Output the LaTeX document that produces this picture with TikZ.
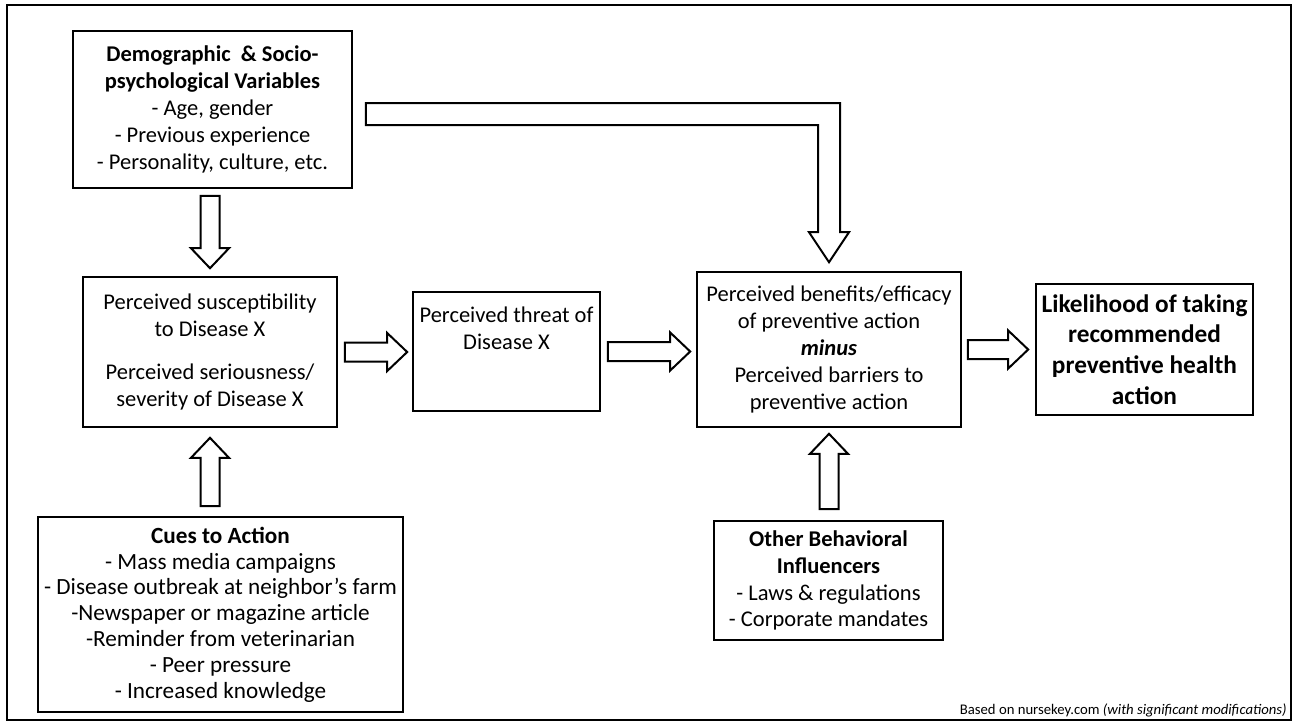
\documentclass[tikz,border=0pt]{standalone}
\usepackage{fontspec}
\setmainfont{Carlito}
\usetikzlibrary{calc,positioning}

\newcommand{\blockarrow}[2]{%
	\coordinate (ba-h) at ($(#2)!10pt!(#1)$);
	\draw[hollow] ($(#1)!4.75pt!90:(#2)$) -- ($(ba-h)!4.75pt!90:(#2)$) -- ($(ba-h)!9.5pt!90:(#2)$) -- (#2)
		-- ($(ba-h)!9.5pt!-90:(#2)$) -- ($(ba-h)!4.75pt!-90:(#2)$) -- ($(#1)!4.75pt!-90:(#2)$) -- cycle;
}

\begin{document}
\begin{tikzpicture}[x=0.5pt,y=-0.5pt,line join=miter]
	\useasboundingbox (0,0) rectangle (1294,725);
	\draw[line width=1.2pt] (7,5) rectangle (1291,720);
	\begin{scope}[font=\fontsize{11.25}{13.4}\selectfont]
		\tikzstyle{box}=[draw,line width=0.8pt,align=center,inner sep=0pt];
		\tikzstyle{hollow}=[draw,line width=1pt,fill=white];
		\path (212.5,109.5) node [box,minimum width=139.5pt,minimum height=78.5pt] (demo)
			{\textbf{Demographic\ \ \& Socio-}\\\textbf{psychological Variables}\\- Age, gender\\- Previous experience\\- Personality, culture, etc.};
		\path (210,352) node [box,minimum width=127pt,minimum height=75pt] (susc)
			{Perceived susceptibility\\to Disease X\\[8pt]Perceived seriousness/\\severity of Disease X};
		\path (506.5,351.5) node [box,minimum width=93.5pt,minimum height=59.5pt] (threat) {};
		\path (threat.north) node [below,yshift=-4.5pt,align=center] (threattext) {Perceived threat of\\Disease X};
		\path (829,349.5) node [box,minimum width=132pt,minimum height=77.5pt] (benefits)
			{Perceived benefits/efficacy\\of preventive action\\\textbf{\textit{minus}}\\Perceived barriers to\\preventive action};
		\path (1144.5,349.5) node [box,minimum width=108.5pt,minimum height=65.5pt,font=\fontsize{12.65}{15.3}\selectfont\bfseries] (likely)
			{Likelihood of taking\\recommended\\preventive health\\action};
		\path (220.5,614.5) node [box,minimum width=182.5pt,minimum height=97.5pt,font=\fontsize{11.6}{12.9}\selectfont] (cues)
			{\textbf{Cues to Action}\\- Mass media campaigns\\- Disease outbreak at neighbor’s farm\\-Newspaper or magazine article\\-Reminder from veterinarian\\- Peer pressure\\- Increased knowledge};
		\path (828.5,580.5) node [box,minimum width=114.5pt,minimum height=59.5pt] (other)
			{\textbf{Other Behavioral}\\\textbf{Influencers}\\- Laws \& regulations\\- Corporate mandates};
		\path (1287,714) node [anchor=base east,inner sep=0pt,font=\fontsize{7.35}{8}\selectfont] (source)
			{Based on nursekey.com \textit{(with significant modifications)}};

		\coordinate (d1e) at ($(susc.north)+(0,-8)$);
		\coordinate (d1s) at ($(d1e |- demo.south)+(0,7)$);
		\coordinate (u1e) at ($(susc.south)+(0,10)$);
		\coordinate (u1s) at ($(u1e |- cues.north)+(0,-10)$);
		\coordinate (r1s) at ($(susc.east)+(7,0)$);
		\coordinate (r1e) at ($(r1s -| threat.west)+(-5,0)$);
		\coordinate (r2s) at ($(threat.east)+(7,0)$);
		\coordinate (r2e) at ($(r2s -| benefits.west)+(-6,0)$);
		\coordinate (r3s) at ($(benefits.east)+(6,0)$);
		\coordinate (r3e) at ($(r3s -| likely.west)+(-7,0)$);
		\coordinate (u2e) at ($(benefits.south)+(0,6)$);
		\coordinate (u2s) at ($(u2e |- other.north)+(0,-11)$);
		\blockarrow{d1s}{d1e}
		\blockarrow{u1s}{u1e}
		\blockarrow{r1s}{r1e}
		\blockarrow{r2s}{r2e}
		\blockarrow{r3s}{r3e}
		\blockarrow{u2s}{u2e}

		\coordinate (elbow) at ($(demo.east)+(13,4.5)$);
		\coordinate (tip) at ($(benefits.north)+(0,-9)$);
		\coordinate (bend) at (tip |- elbow);
		\draw[hollow] ($(elbow)+(0,-11)$) -- ($(bend)+(11,-11)$) -- ($(tip)+(11,-30)$) -- ++(9,0) -- (tip)
			-- ++(-20,-30) -- ++(9,0) -- ($(bend)+(-11,11)$) -- ($(elbow)+(0,11)$) -- cycle;
	\end{scope}
\end{tikzpicture}
\end{document}
